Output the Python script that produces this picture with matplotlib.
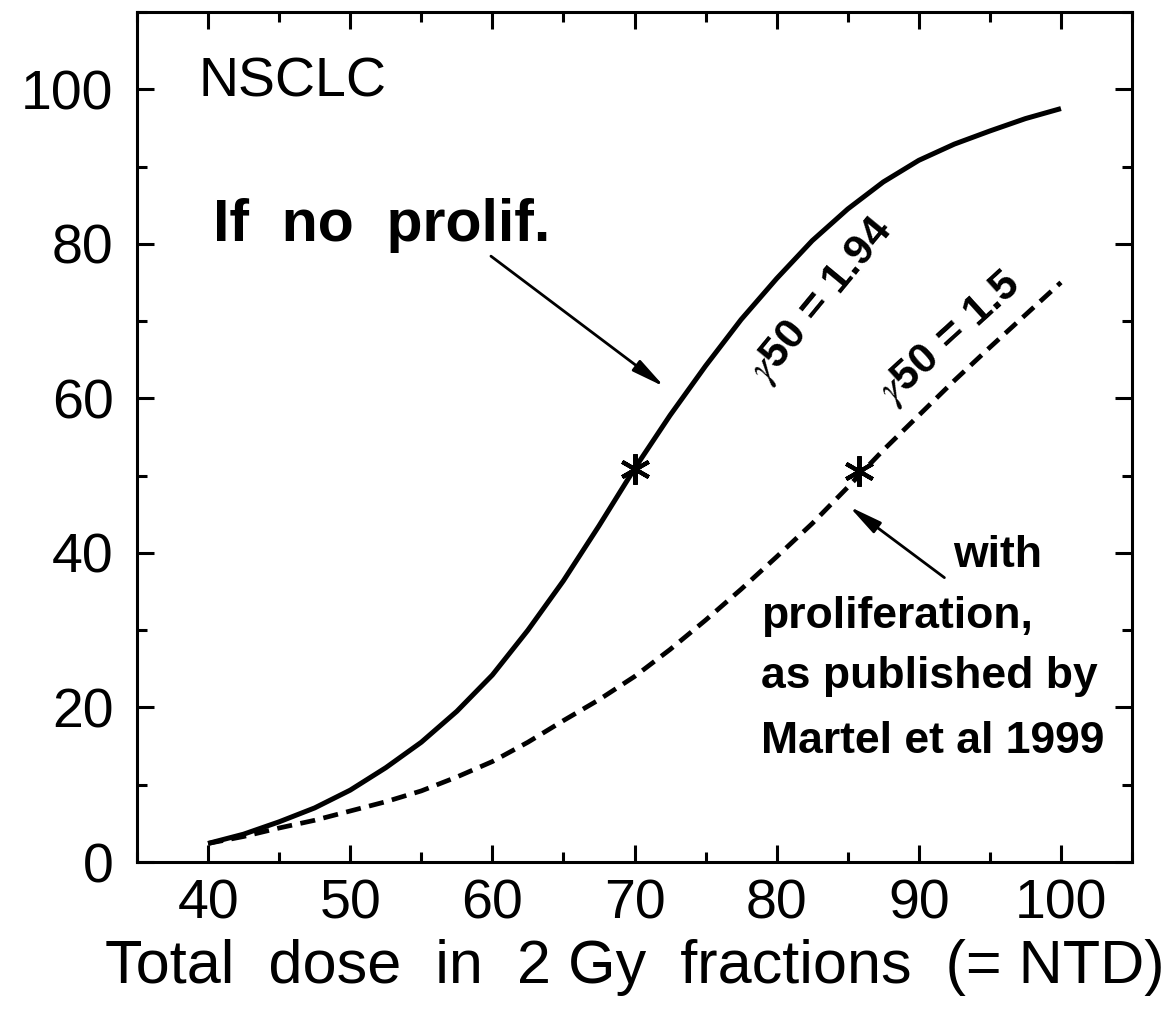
import matplotlib
matplotlib.use("Agg")
import matplotlib.pyplot as plt
from matplotlib.ticker import MultipleLocator


plt.rcParams["font.family"] = ["Liberation Sans", "DejaVu Sans"]
plt.rcParams["mathtext.fontset"] = "stix"

# dose (Gy, 2 Gy fractions) vs local control (%)
dose = [40, 42.5, 45, 47.5, 50, 52.5, 55, 57.5, 60, 62.5, 65, 67.5, 70,
        72.5, 75, 77.5, 80, 82.5, 85, 87.5, 90, 92.5, 95, 97.5, 100]
tcp_no_prolif = [2.4, 3.6, 5.2, 7.0, 9.3, 12.2, 15.5, 19.5, 24.2, 30.0, 36.4,
                 43.5, 50.9, 57.8, 64.2, 70.2, 75.5, 80.4, 84.5, 88.0, 90.8,
                 92.9, 94.6, 96.2, 97.5]
tcp_prolif = [2.4, 3.3, 4.4, 5.4, 6.6, 7.8, 9.2, 11.0, 13.0, 15.5, 18.3, 21.0,
              24.0, 27.5, 31.3, 35.3, 39.5, 43.8, 48.5, 53.3, 57.8, 62.3,
              66.6, 70.8, 75.0]

# D50 points marked with an asterisk
d50_no_prolif = (70.0, 50.9)
d50_prolif = (85.8, 50.6)

x_ticks = [40, 50, 60, 70, 80, 90, 100]
y_ticks = [0, 20, 40, 60, 80, 100]

ARROW = dict(arrowstyle="-|>,head_length=1.0,head_width=0.2", lw=2.0,
             color="black", mutation_scale=20, shrinkA=0, shrinkB=0)


def main() -> None:
    fig = plt.figure(figsize=(11.65, 10.14), dpi=100)
    ax = fig.add_axes([0.1176, 0.1499, 0.8541, 0.8383])

    ax.plot(dose, tcp_no_prolif, color="black", lw=3.6, solid_capstyle="butt")
    ax.plot(dose, tcp_prolif, color="black", lw=3.4,
            linestyle=(0, (3.2, 1.8)))

    for px, py in [d50_no_prolif, d50_prolif]:
        ax.plot(px, py, marker=(6, 2, 0), markersize=22, mew=3.0,
                color="black", linestyle="none")

    ax.set_xlim(35, 105)
    ax.set_ylim(0, 110)
    ax.set_xticks(x_ticks)
    ax.set_yticks(y_ticks)
    ax.xaxis.set_minor_locator(MultipleLocator(5))
    ax.yaxis.set_minor_locator(MultipleLocator(10))

    ax.tick_params(which="both", direction="in", top=True, right=True,
                   width=2.2, labelsize=40)
    ax.tick_params(which="major", length=12)
    ax.tick_params(which="minor", length=7)
    ax.tick_params(axis="x", which="major", pad=12)
    ax.tick_params(axis="y", which="major", pad=17)
    for side in ax.spines.values():
        side.set_linewidth(2.2)

    ax.set_xlabel("Total  dose  in  2 Gy  fractions  (= NTD)", fontsize=44,
                  labelpad=6)

    ax.text(39.3, 99.1, "NSCLC", fontsize=40, ha="left", va="baseline")
    ax.text(40.35, 80.4, "If  no  prolif.", fontsize=42.5, fontweight="bold",
            ha="left", va="baseline")
    ax.annotate("", xy=(72.1, 61.5), xytext=(59.9, 78.4), arrowprops=ARROW)

    ax.text(83.2, 72.6, r"$\gamma$50 = 1.94", fontsize=31, fontweight="bold",
            rotation=50.5, rotation_mode="anchor", ha="center", va="center")
    ax.text(92.2, 67.7, r"$\gamma$50 = 1.5", fontsize=31, fontweight="bold",
            rotation=42.3, rotation_mode="anchor", ha="center", va="center")

    ax.text(98.7, 38.2, "with", fontsize=32, fontweight="bold",
            ha="right", va="baseline")
    ax.text(78.9, 30.3, "proliferation,", fontsize=32, fontweight="bold",
            ha="left", va="baseline")
    ax.text(78.9, 22.5, "as published by", fontsize=32, fontweight="bold",
            ha="left", va="baseline")
    ax.text(78.9, 14.1, "Martel et al 1999", fontsize=32, fontweight="bold",
            ha="left", va="baseline")
    ax.annotate("", xy=(85.1, 46.0), xytext=(91.8, 36.8), arrowprops=ARROW)

    fig.savefig("out.png", dpi=100)
    plt.close(fig)


if __name__ == "__main__":
    main()
